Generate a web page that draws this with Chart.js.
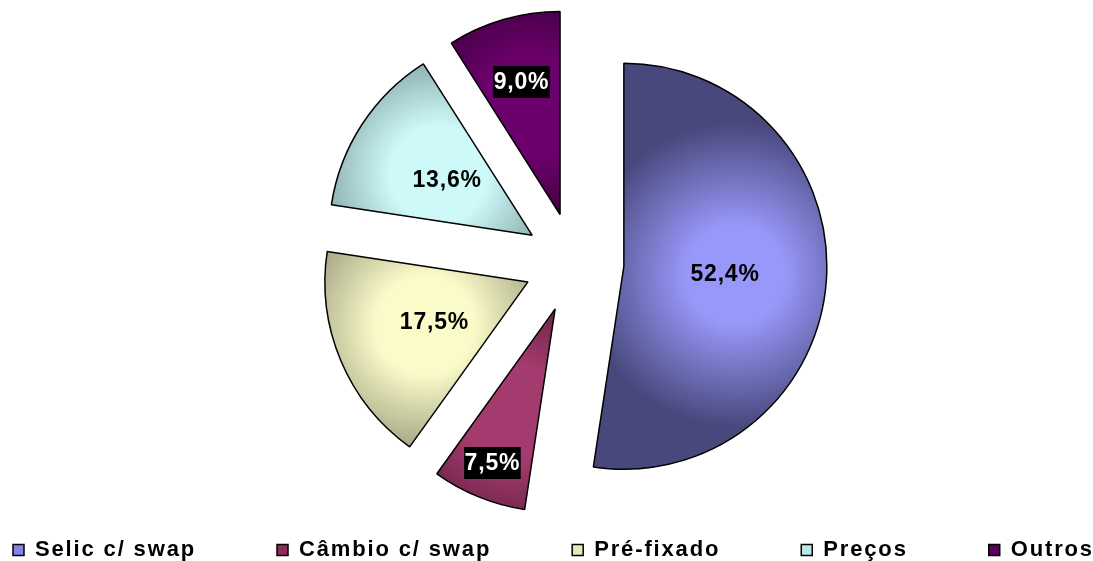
<!DOCTYPE html>
<html>
<head>
<meta charset="utf-8">
<script src="https://cdn.jsdelivr.net/npm/chart.js@4.4.1/dist/chart.umd.min.js"></script>
<style>
  html, body { margin: 0; padding: 0; background: #fff; }
  #wrap { width: 1093px; height: 561px; }
</style>
</head>
<body>
<div id="wrap"><canvas id="myChart"></canvas></div>
<script>
var categories = ['Selic c/ swap', 'Câmbio c/ swap', 'Pré-fixado', 'Preços', 'Outros'];
var shares = [52.4, 7.5, 17.5, 13.6, 9.0];

// slice shading: light in the middle of the slice, dark at the rim
var lightColors = ['#9898fa', '#a43b6e', '#fbfbca', '#cef9f9', '#6c006c'];
var darkColors = ['#48487c', '#4a1530', '#86866c', '#688484', '#280028'];
var legendColors = ['#8484e6', '#8e2c5e', '#e8e8b6', '#b6e8e8', '#5a005a'];
// where the value label sits, as a fraction of the radius
var labelRadius = [0.5, 0.82, 0.5, 0.5, 0.68];

var explode = 50;     // how far each slice is pulled out
var pieRadius = 203;
var pieShiftX = 27.5; // pie sits a bit right of the page centre
var fontFamily = 'Arial, "Liberation Sans", sans-serif';

function isDark(hex) {
    var n = parseInt(hex.slice(1), 16);
    var r = (n >> 16) & 255, g = (n >> 8) & 255, b = n & 255;
    return (0.299 * r + 0.587 * g + 0.114 * b) < 110;
}

function sliceFill(c) {
    var i = c.dataIndex;
    var arc = c.element;
    if (!arc || arc.x === undefined || arc.startAngle === undefined) return lightColors[i];
    var mid = (arc.startAngle + arc.endAngle) / 2;
    // the arc is translated before it is filled, so stay relative to arc.x/arc.y
    var d = pieRadius * 0.55;
    var gx = arc.x + Math.cos(mid) * d;
    var gy = arc.y + Math.sin(mid) * d;
    var grad = c.chart.ctx.createRadialGradient(gx, gy, 0, gx, gy, pieRadius * 0.75);
    grad.addColorStop(0, lightColors[i]);
    grad.addColorStop(0.32, lightColors[i]);
    grad.addColorStop(1, darkColors[i]);
    return grad;
}

var shiftPie = {
    id: 'shiftPie',
    afterLayout: function (chart) {
        chart.chartArea.left += 2 * pieShiftX;
        chart.chartArea.width -= 2 * pieShiftX;
    }
};

// chart.js grows offset slices and trims their angle; undo both so every slice
// keeps the same radius and its true angle
var explodeFix = {
    id: 'explodeFix',
    afterDatasetUpdate: function (chart, args) {
        chart.getDatasetMeta(args.index).data.forEach(function (arc) {
            var shift = ((arc.options && arc.options.offset) || 0) / 4;
            var grow = shift * (1 - Math.sin(Math.min(Math.PI, arc.circumference)));
            arc.outerRadius = pieRadius - grow;
            var spread = grow / (2 * Math.PI * pieRadius);
            arc.startAngle -= spread;
            arc.endAngle += spread;
        });
    }
};

var spacedText = {
    id: 'spacedText',
    beforeLayout: function (chart) { chart.ctx.letterSpacing = '1.85px'; },
    beforeDraw: function (chart) { chart.ctx.letterSpacing = '1.85px'; }
};

var sliceLabels = {
    id: 'sliceLabels',
    afterDatasetsDraw: function (chart) {
        var ctx = chart.ctx;
        var meta = chart.getDatasetMeta(0);
        ctx.save();
        ctx.font = 'bold 23px ' + fontFamily;
        ctx.letterSpacing = '0.8px';
        ctx.textAlign = 'center';
        ctx.textBaseline = 'middle';
        meta.data.forEach(function (arc, i) {
            var mid = (arc.startAngle + arc.endAngle) / 2;
            var d = explode + pieRadius * labelRadius[i];
            var x = arc.x + Math.cos(mid) * d;
            var y = arc.y + Math.sin(mid) * d;
            var text = shares[i].toFixed(1).replace('.', ',') + '%';
            if (isDark(lightColors[i])) {
                var w = ctx.measureText(text).width + 1;
                ctx.fillStyle = '#000';
                ctx.fillRect(x - w / 2, y - 16, w, 32);
                ctx.fillStyle = '#fff';
            } else {
                ctx.fillStyle = '#000';
            }
            ctx.fillText(text, x, y + 1);
        });
        ctx.restore();
    }
};

var ctx = document.getElementById('myChart').getContext('2d');
var chart = new Chart(ctx, {
    type: 'pie',
    data: {
        labels: categories,
        datasets: [{
            data: shares,
            backgroundColor: sliceFill,
            borderColor: '#000',
            borderWidth: 1.5,
            offset: explode * 4,
            clip: false
        }]
    },
    options: {
        responsive: true,
        maintainAspectRatio: false,
        devicePixelRatio: 1,
        animation: false,
        events: [],
        radius: pieRadius,
        layout: {
            padding: { left: -68, right: -120, top: 67, bottom: -10 }
        },
        plugins: {
            tooltip: { enabled: false },
            legend: {
                position: 'bottom',
                align: 'start',
                labels: {
                    color: '#000',
                    font: { family: fontFamily, size: 22, weight: 'bold' },
                    boxWidth: 11,
                    boxHeight: 11,
                    padding: 81,
                    generateLabels: function () {
                        return categories.map(function (name, i) {
                            return {
                                text: name,
                                fillStyle: legendColors[i],
                                strokeStyle: '#000',
                                lineWidth: 1.5,
                                hidden: false,
                                index: i
                            };
                        });
                    }
                }
            }
        }
    },
    plugins: [spacedText, shiftPie, explodeFix, sliceLabels]
});

// second pass so the shading can use the slice geometry
chart.update();
</script>
</body>
</html>
